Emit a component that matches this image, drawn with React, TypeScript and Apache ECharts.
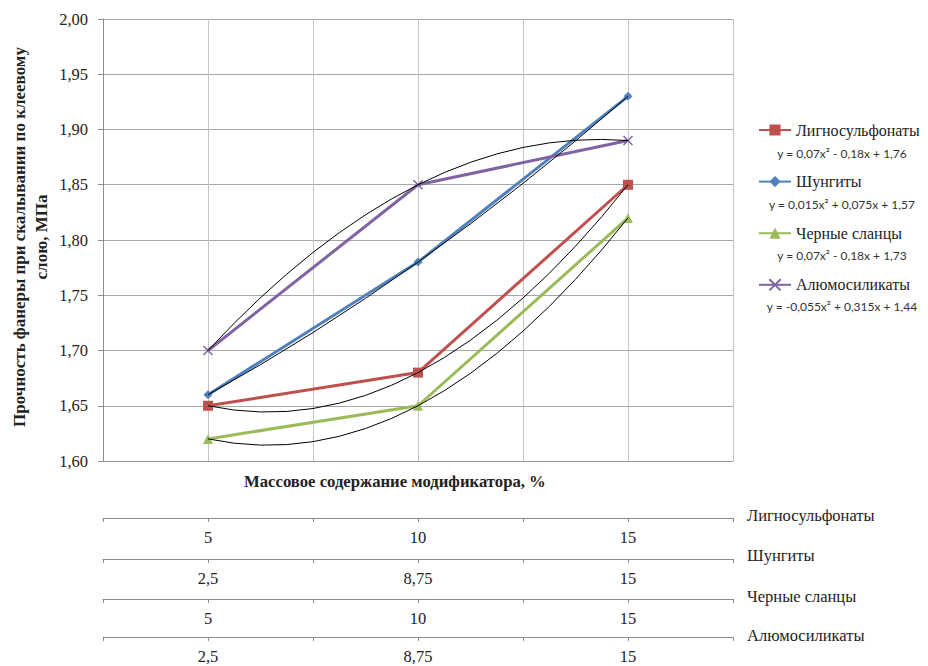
import React, { useEffect, useRef } from "react";
import * as echarts from "echarts";

// Excel category positions (1, 2, 3) on the shared value x-axis
const categoryPos = [1, 2, 3];

const seriesNames = ["Лигносульфонаты", "Шунгиты", "Черные сланцы", "Алюмосиликаты"];
const lignosulfonates = [1.65, 1.68, 1.85];
const shungites = [1.66, 1.78, 1.93];
const blackShales = [1.62, 1.65, 1.82];
const aluminosilicates = [1.70, 1.85, 1.89];
const seriesValues = [lignosulfonates, shungites, blackShales, aluminosilicates];

const equations = [
  "y = 0,07x² - 0,18x + 1,76",
  "y = 0,015x² + 0,075x + 1,57",
  "y = 0,07x² - 0,18x + 1,73",
  "y = -0,055x² + 0,315x + 1,44",
];

// modifier content tick labels for each series (bottom table)
const rowLabels = [
  ["5", "10", "15"],
  ["2,5", "8,75", "15"],
  ["5", "10", "15"],
  ["2,5", "8,75", "15"],
];

const colors = ["#C0504D", "#4F81BD", "#9BBB59", "#8064A2"];
const symbols = ["rect", "diamond", "triangle", "path://M0 0L10 10M10 0L0 10"];
const symbolSizes = [10, 9, 10, 9];

const yTitle = "Прочность фанеры при скалывании по клеевому\nслою, МПа";
const xTitle = "Массовое содержание модификатора, %";

const SERIF = "Liberation Serif";

export default function App() {
  const ref = useRef<HTMLDivElement>(null);

  useEffect(() => {
    if (!ref.current) return;
    const chart = echarts.init(ref.current, undefined, { renderer: "svg" });

    const gridLeft = 103;
    const gridTop = 19;
    const gridRight = 928 - 733;
    const gridBottom = 666 - 461;
    const offsets = [57, 98, 138, 176];

    const tableAxes = rowLabels.map((labels, i) => ({
      type: "value",
      gridIndex: 0,
      position: "bottom",
      offset: offsets[i],
      min: 0.5,
      max: 3.5,
      interval: 0.5,
      axisLine: { show: true, lineStyle: { color: "#8c8c8c", width: 1 } },
      axisTick: { show: true, length: 4, lineStyle: { color: "#8c8c8c" } },
      splitLine: { show: false },
      axisLabel: {
        show: true,
        margin: 11,
        fontFamily: SERIF,
        fontSize: 16.5,
        color: "#222",
        formatter: (v: number) => {
          const r = Math.round(v);
          return Math.abs(v - r) < 1e-6 && r >= 1 && r <= 3 ? labels[r - 1] : "";
        },
      },
    }));

    const lineSeries = seriesNames.map((name, i) => ({
      name,
      type: "line",
      xAxisIndex: 0,
      yAxisIndex: 0,
      data: categoryPos.map((x, j) => [x, seriesValues[i][j]]),
      symbol: symbols[i],
      symbolSize: symbolSizes[i],
      showSymbol: true,
      lineStyle: { color: colors[i], width: 3 },
      itemStyle: {
        color: colors[i],
        borderColor: colors[i],
        borderWidth: i === 3 ? 1.5 : 0,
      },
      z: 2,
    }));

    // Polynomial (order 2) trendlines: the parabola through the three points,
    // drawn as an exact quadratic Bezier curve.
    const trendSeries = {
      type: "custom",
      xAxisIndex: 0,
      yAxisIndex: 0,
      silent: true,
      z: 3,
      data: seriesValues.map((vals) => [categoryPos[1], vals[1]]),
      renderItem: (params: any, api: any) => {
        const vals = seriesValues[params.dataIndex];
        const p0 = api.coord([categoryPos[0], vals[0]]);
        const p2 = api.coord([categoryPos[2], vals[2]]);
        const cpY = 2 * vals[1] - (vals[0] + vals[2]) / 2;
        const p1 = api.coord([categoryPos[1], cpY]);
        return {
          type: "bezierCurve",
          shape: { x1: p0[0], y1: p0[1], x2: p2[0], y2: p2[1], cpx1: p1[0], cpy1: p1[1] },
          style: { stroke: "#000", lineWidth: 1, fill: null },
        };
      },
    };

    const rowNameY = [515, 555, 596, 635];

    const option: any = {
      animation: false,
      backgroundColor: "#fff",
      grid: {
        left: gridLeft,
        top: gridTop,
        right: gridRight,
        bottom: gridBottom,
        containLabel: false,
        outerBoundsMode: "none",
      },
      legend: {
        orient: "vertical",
        left: 758,
        top: 122,
        padding: 0,
        itemWidth: 32,
        itemHeight: 14,
        itemGap: 35.6,
        data: seriesNames,
        textStyle: { fontFamily: SERIF, fontSize: 16, color: "#222" },
      },
      xAxis: [
        {
          type: "value",
          gridIndex: 0,
          position: "bottom",
          min: 0.5,
          max: 3.5,
          interval: 0.5,
          axisLine: { show: true, lineStyle: { color: "#9a9a9a" } },
          axisTick: { show: false },
          axisLabel: { show: false },
          splitLine: { show: true, lineStyle: { color: "#c4c4c4", width: 1 } },
        },
        ...tableAxes,
      ],
      yAxis: {
        type: "value",
        min: 1.6,
        max: 2.0,
        interval: 0.05,
        axisLine: { show: true, lineStyle: { color: "#8c8c8c" } },
        axisTick: { show: true, length: 5, lineStyle: { color: "#8c8c8c" } },
        splitLine: { show: true, lineStyle: { color: "#a6a6a6", width: 1 } },
        axisLabel: {
          margin: 15,
          fontFamily: SERIF,
          fontSize: 16.5,
          color: "#222",
          formatter: (v: number) => v.toFixed(2).replace(".", ","),
        },
      },
      graphic: [
        {
          type: "text",
          x: 30,
          y: 237,
          rotation: Math.PI / 2,
          style: {
            text: yTitle,
            fontFamily: SERIF,
            fontSize: 17,
            fontWeight: "bold",
            fill: "#222",
            lineHeight: 22,
            align: "center",
            verticalAlign: "middle",
          },
        },
        {
          type: "text",
          left: 244,
          top: 473,
          style: {
            text: xTitle,
            fontFamily: SERIF,
            fontSize: 16.7,
            fontWeight: "bold",
            fill: "#222",
          },
        },
        ...seriesNames.map((name, i) => ({
          type: "text",
          x: 747,
          y: rowNameY[i],
          style: {
            text: name,
            fontFamily: SERIF,
            fontSize: 16.5,
            fill: "#222",
            align: "left",
            verticalAlign: "middle",
          },
        })),
        ...equations.map((eq, i) => ({
          type: "text",
          x: 842,
          y: 153 + i * 51,
          style: {
            text: eq,
            fontFamily: "Lato",
            fontSize: 12,
            fill: "#333",
            align: "center",
            verticalAlign: "middle",
          },
        })),
      ],
      series: [...lineSeries, trendSeries],
    };

    chart.setOption(option);
    return () => chart.dispose();
  }, []);

  return (
    <div
      ref={ref}
      style={{ position: "absolute", left: 0, top: 0, width: 928, height: 666 }}
    />
  );
}
